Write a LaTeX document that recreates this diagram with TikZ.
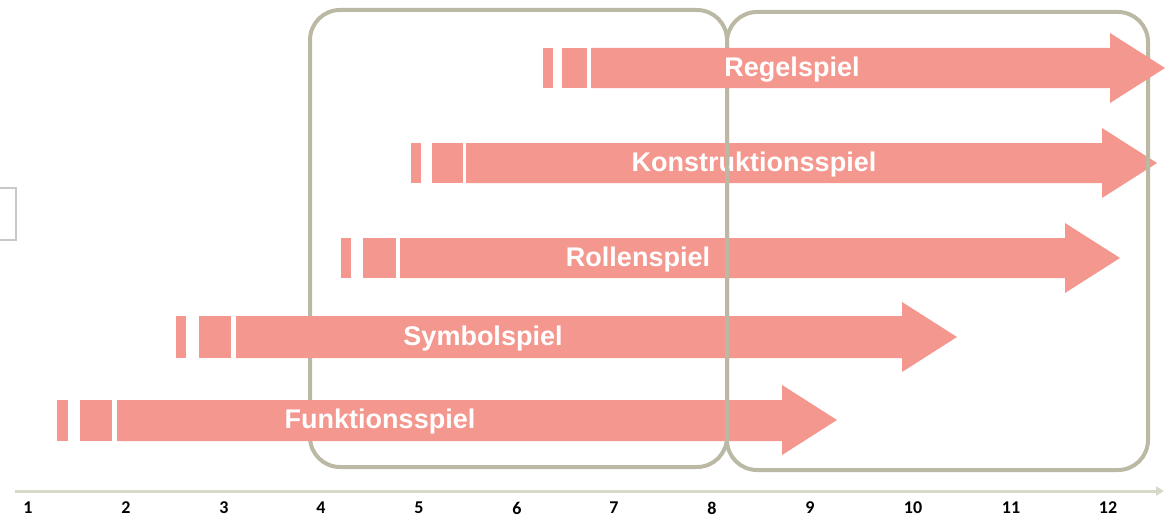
\documentclass[tikz,border=0pt]{standalone}
\usepackage{fontspec}
\setmainfont{Liberation Sans}
\newfontfamily\zahlfont{Carlito}
\usepackage{tikz}
\usetikzlibrary{arrows.meta}
\definecolor{spielrot}{RGB}{244,151,142}
\definecolor{rahmengrau}{RGB}{187,185,164}
\definecolor{achsgrau}{RGB}{214,217,200}
\definecolor{kastengrau}{RGB}{200,200,200}
\tikzset{
  spiel/.style={fill=spielrot},
  spieltext/.style={text=white, font=\fontsize{27}{32}\selectfont\bfseries, inner sep=0pt},
  rahmen/.style={draw=rahmengrau, line width=4pt, rounded corners=30pt},
  alter/.style={font=\zahlfont\fontsize{18}{21}\selectfont\bfseries, inner sep=0pt}
}

\begin{document}
\begin{tikzpicture}[x=1pt, y=-1pt]
    \useasboundingbox (0,0) rectangle (1170,519);
    % kleiner Kasten links
    \draw[kastengrau, line width=2pt] (0,188) -- (16,188) -- (16,240) -- (0,240);
    % linker Rahmen
    \draw[rahmen] (310,10) rectangle (727,467);
    % Funktionsspiel
    \fill[spiel] (57,400) rectangle (68,441);
    \fill[spiel] (80,400) rectangle (112,441);
    \fill[spiel] (117,400) -- (782,400) -- (782,385) -- (837,420) -- (782,455) -- (782,441) -- (117,441) -- cycle;
    \node[spieltext] (funktion) at (380,422) {Funktionsspiel};
    % Symbolspiel
    \fill[spiel] (176,316) rectangle (186,358);
    \fill[spiel] (199,316) rectangle (231,358);
    \fill[spiel] (236,316) -- (902,316) -- (902,302) -- (957,337) -- (902,372) -- (902,358) -- (236,358) -- cycle;
    \node[spieltext] (symbol) at (483,339) {Symbolspiel};
    % Rollenspiel
    \fill[spiel] (341,238) rectangle (351,278);
    \fill[spiel] (363,238) rectangle (396,278);
    \fill[spiel] (400,238) -- (1065,238) -- (1065,223) -- (1120,258) -- (1065,293) -- (1065,278) -- (400,278) -- cycle;
    \node[spieltext] (rolle) at (638,260) {Rollenspiel};
    % Konstruktionsspiel
    \fill[spiel] (411,143) rectangle (421,183);
    \fill[spiel] (432,143) rectangle (463,183);
    \fill[spiel] (466,143) -- (1102,143) -- (1102,128) -- (1157,163) -- (1102,198) -- (1102,183) -- (466,183) -- cycle;
    \node[spieltext] (konstruktion) at (754,165) {Konstruktionsspiel};
    % rechter Rahmen
    \draw[rahmen] (727,12) rectangle (1148,470);
    % Regelspiel
    \fill[spiel] (543,48) rectangle (553,88);
    \fill[spiel] (562,48) rectangle (587,88);
    \fill[spiel] (591,48) -- (1110,48) -- (1110,33) -- (1165,68) -- (1110,103) -- (1110,88) -- (591,88) -- cycle;
    \node[spieltext] (regel) at (792,70) {Regelspiel};
    % Altersachse
    \coordinate (achseA) at (15,491);
    \coordinate (achseB) at (1164,491);
    \draw[achsgrau, line width=3pt, -{Triangle[length=8pt, width=9pt]}] (achseA) -- (achseB);
    \node[alter] (a1) at (28,508) {1};
    \node[alter] (a2) at (126,508) {2};
    \node[alter] (a3) at (224,508) {3};
    \node[alter] (a4) at (321,508) {4};
    \node[alter] (a5) at (419,508) {5};
    \node[alter] (a6) at (517,508) {6};
    \node[alter] (a7) at (614,508) {7};
    \node[alter] (a8) at (712,508) {8};
    \node[alter] (a9) at (810,508) {9};
    \node[alter] (a10) at (913,508) {10};
    \node[alter] (a11) at (1011,508) {11};
    \node[alter] (a12) at (1108,508) {12};
\end{tikzpicture}
\end{document}
